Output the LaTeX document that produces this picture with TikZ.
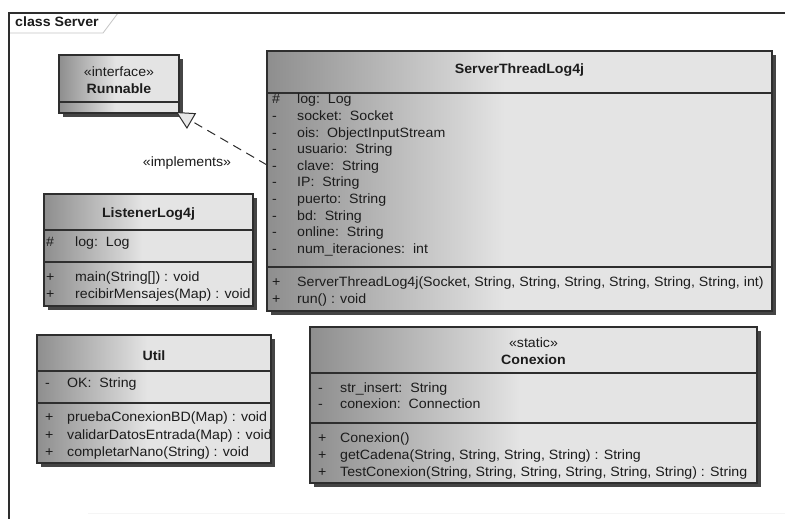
\documentclass[tikz,border=0pt]{standalone}
\usepackage{fontspec}
\setmainfont{Liberation Sans}[FakeStretch=1.05]
\usetikzlibrary{arrows.meta}

\definecolor{shL}{HTML}{8E8E8E}
\definecolor{shM}{HTML}{D2D2D2}
\definecolor{shR}{HTML}{E4E4E4}
\definecolor{edgec}{HTML}{2E2E2E}
\definecolor{shadowc}{HTML}{454545}
\definecolor{inkc}{HTML}{1C1C1C}
\definecolor{tabc}{HTML}{C4C4C4}

% left-to-right fill of a class box: dark at the left, light from the middle on
\pgfdeclarehorizontalshading{umlgrad}{100bp}{color(0bp)=(shL); color(25bp)=(shL);
  color(44bp)=(shM); color(48.5bp)=(shR); color(75bp)=(shR); color(100bp)=(shR)}

% rows of a compartment: visibility column + member text
\newcommand\members[2]{\begin{tabular}{@{}p{#1}@{}l@{}}#2\end{tabular}}

\tikzset{
  classbox/.style={draw=edgec, line width=1.1pt, shading=umlgrad, anchor=north west,
    inner sep=0pt, outer sep=0pt},
  boxshadow/.style={fill=shadowc},
  sepline/.style={draw=edgec, line width=1.1pt},
  ctitle/.style={text=inkc, font=\fontsize{13.5}{17}\selectfont\bfseries, align=center, inner sep=0pt},
  cmp/.style={text=inkc, anchor=north west, inner sep=0pt,
    font=\fontsize{13.5}{#1}\selectfont},
  cmp/.default=16.6,
  plain/.style={text=inkc, inner sep=0pt, font=\fontsize{13.5}{17}\selectfont},
  realize/.style={draw=edgec, line width=1pt, dash pattern=on 9pt off 6pt,
    -{Triangle[open, fill=gray!18, width=18pt, length=18pt, line width=1pt]}},
}

\begin{document}
\begin{tikzpicture}[x=1pt, y=-1pt]
\useasboundingbox[fill=white] (0,0) rectangle (785,519);

% diagram frame and its name tab
\draw[tabc, line width=0.8pt] (118,13) -- (103,33) -- (9,33);
\draw[edgec, line width=1.6pt] (9,519) -- (9,13) -- (785,13);
\node[plain, anchor=west, font=\fontsize{13.5}{17}\selectfont\bfseries] (frame) at (15,22) {class Server};
\draw[gray!8, line width=1pt] (88,513) -- (785,513);

% ---------- Runnable ----------
\fill[boxshadow] (63,59) rectangle (183,117);
\node[classbox, minimum width=120pt, minimum height=58pt] (run) at (59,55) {};
\draw[sepline] (59,102) -- (179,102);
\node[ctitle, font=\fontsize{13.5}{17}\selectfont] (run-t) at (119,80.5)
  {«interface»\\\textbf{Runnable}};

% ---------- ServerThreadLog4j ----------
\fill[boxshadow] (271,55) rectangle (776,315);
\node[classbox, minimum width=505pt, minimum height=260pt] (stl) at (267,51) {};
\draw[sepline] (stl.west |- 0,93) -- (stl.east |- 0,93);
\draw[sepline] (stl.west |- 0,267) -- (stl.east |- 0,267);
\node[ctitle] (stl-t) at (519.5,70) {ServerThreadLog4j};
\node[cmp] (stl-a) at (272,92.1) {\members{25pt}{%
  \# & log:\ \ Log\\
  - & socket:\ \ Socket\\
  - & ois:\ \ ObjectInputStream\\
  - & usuario:\ \ String\\
  - & clave:\ \ String\\
  - & IP:\ \ String\\
  - & puerto:\ \ String\\
  - & bd:\ \ String\\
  - & online:\ \ String\\
  - & num\_iteraciones:\ \ int}};
\node[cmp] (stl-m) at (272,275.1) {\members{25pt}{%
  + & ServerThreadLog4j(Socket, String, String, String, String, String, String, int)\\
  + & run() : void}};

% ---------- ListenerLog4j ----------
\fill[boxshadow] (48,198) rectangle (257,310);
\node[classbox, minimum width=209pt, minimum height=112pt] (lst) at (44,194) {};
\draw[sepline] (lst.west |- 0,230) -- (lst.east |- 0,230);
\draw[sepline] (lst.west |- 0,262) -- (lst.east |- 0,262);
\node[ctitle] (lst-t) at (148.5,214) {ListenerLog4j};
\node[cmp] (lst-a) at (46,235.1) {\members{29pt}{\# & log:\ \ Log}};
\node[cmp=17] (lst-m) at (46,269.1) {\members{29pt}{%
  + & main(String[]) : void\\
  + & recibirMensajes(Map) : void}};

% ---------- Util ----------
\fill[boxshadow] (41,339) rectangle (275,467);
\node[classbox, minimum width=234pt, minimum height=128pt] (utl) at (37,335) {};
\draw[sepline] (utl.west |- 0,371) -- (utl.east |- 0,371);
\draw[sepline] (utl.west |- 0,403) -- (utl.east |- 0,403);
\node[ctitle] (utl-t) at (154,356) {Util};
\node[cmp] (utl-a) at (45,376.1) {\members{22pt}{- & OK:\ \ String}};
\node[cmp=17.5] (utl-m) at (45,409.1) {\members{22pt}{%
  + & pruebaConexionBD(Map) : void\\
  + & validarDatosEntrada(Map) : void\\
  + & completarNano(String) : void}};

% ---------- Conexion ----------
\fill[boxshadow] (314,331) rectangle (761,487);
\node[classbox, minimum width=447pt, minimum height=156pt] (cnx) at (310,327) {};
\draw[sepline] (cnx.west |- 0,373) -- (cnx.east |- 0,373);
\draw[sepline] (cnx.west |- 0,423) -- (cnx.east |- 0,423);
\node[ctitle, font=\fontsize{13.5}{16.5}\selectfont] (cnx-t) at (533.5,351)
  {«static»\\\textbf{Conexion}};
\node[cmp=16.8] (cnx-a) at (318,380.1) {\members{22pt}{%
  - & str\_insert:\ \ String\\
  - & conexion:\ \ Connection}};
\node[cmp=17] (cnx-m) at (318,430.1) {\members{22pt}{%
  + & Conexion()\\
  + & getCadena(String, String, String, String) : String\\
  + & TestConexion(String, String, String, String, String, String) : String}};

% ---------- realization ServerThreadLog4j -> Runnable ----------
\coordinate (implfrom) at (stl.west |- 0,165);
\draw[realize] (implfrom) -- ([shift={(-3pt,1pt)}]run.south east);
\node[plain] (impl-l) at (187,163) {«implements»};

\end{tikzpicture}
\end{document}
